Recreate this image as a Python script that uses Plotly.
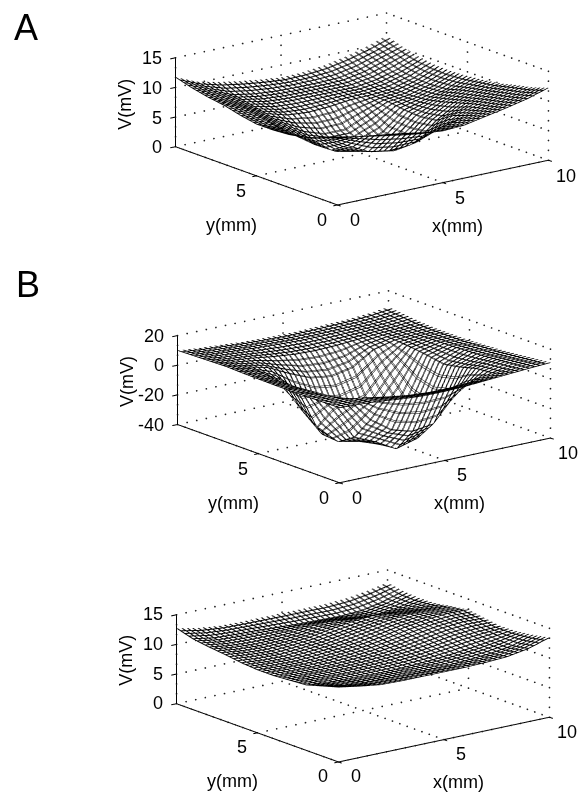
import plotly.graph_objects as go

W, H = 583, 795
GRID_MM = [0, 1, 2, 3, 4, 5, 6, 7, 8, 9, 10]
X_TICKS = [0, 5, 10]
Y_TICKS = [0, 5]
Z_TICKS_A = [0, 5, 10, 15]
Z_TICKS_B = [-40, -20, 0, 20]
Z_TICKS_C = [0, 5, 10, 15]

V_A = [
    [11.5, 10.8, 10.3, 9.8, 9.2, 8.7, 8.9, 9.6, 10.3, 11.1, 12.2],
    [10.4, 9.6, 9.1, 8.5, 7.9, 7.4, 8.0, 8.8, 9.6, 10.4, 11.3],
    [9.4, 8.6, 6.6, 4.8, 4.2, 4.4, 5.6, 7.8, 9.0, 9.8, 10.7],
    [8.9, 7.6, 4.8, 3.8, 3.0, 2.4, 3.0, 6.0, 8.2, 9.2, 10.0],
    [8.7, 7.2, 4.7, 2.8, 2.2, 1.6, 2.6, 5.6, 7.4, 8.6, 9.6],
    [8.7, 7.4, 5.0, 2.8, 1.8, 1.6, 2.8, 5.8, 6.8, 7.8, 9.3],
    [9.2, 8.0, 6.2, 4.2, 3.0, 3.0, 4.6, 6.2, 6.6, 7.6, 9.1],
    [9.9, 8.6, 7.0, 6.0, 5.7, 5.9, 6.3, 6.4, 6.7, 7.7, 9.2],
    [10.3, 9.0, 7.6, 6.9, 6.7, 6.7, 6.7, 6.7, 7.2, 8.2, 9.6],
    [10.9, 9.6, 8.2, 7.6, 7.3, 7.2, 7.2, 7.3, 8.0, 9.2, 10.3],
    [11.7, 10.2, 9.4, 8.8, 8.3, 7.9, 8.0, 8.4, 9.1, 10.0, 11.2],
]
V_B = [
    [10.5, 10, 9, 7.5, 6.5, 6.5, 7, 8, 9, 10, 10.8],
    [10.3, 9, 7.5, 5, 3, 2, 2, 3, 6, 9, 9.8],
    [10.1, 8, 2, -14, -24, -28, -26, -10, 5, 8, 8.6],
    [10, 7, -8, -30, -36, -44, -40, -26, 2, 7, 7.5],
    [10, 6, -24, -37, -40, -45, -42, -30, 0, 6.5, 7],
    [10.2, 6, -16, -36, -40, -42, -40, -26, 2, 6, 6.2],
    [10.4, 7, -3, -22, -32, -34, -30, -12, 3.5, 5.8, 6.2],
    [10.8, 7.5, 4, -3, -9, -11, -8, 1, 4.5, 5.5, 6.2],
    [10.5, 8, 6.5, 4.5, 3, 2.5, 3, 4, 5, 5.7, 6.8],
    [10.2, 8.5, 7.5, 6.5, 5.8, 5.2, 5.2, 5.5, 5.8, 6.5, 8],
    [9.9, 8.5, 7.6, 6.5, 6, 5.6, 5.8, 6.2, 6.6, 7.5, 9.2],
]
V_C = [
    [12.6, 12, 11.5, 11.4, 11.4, 11.4, 11.4, 11.5, 11.7, 12.3, 13.4],
    [11.8, 11.2, 10.9, 10.8, 10.8, 10.8, 10.8, 11, 11.3, 11.8, 12.9],
    [11, 10.7, 10.5, 10.4, 10.4, 10.5, 10.7, 11, 11.4, 11.9, 12.5],
    [10.8, 10.5, 10.4, 10.4, 10.5, 10.7, 11, 11.5, 12, 12.3, 12.4],
    [10.6, 10.4, 10.3, 10.4, 10.6, 10.9, 11.4, 12, 12.6, 12.9, 12.8],
    [10.6, 10.4, 10.3, 10.5, 10.8, 11.2, 11.8, 12.5, 13, 13.3, 13.2],
    [10.8, 10.5, 10.4, 10.7, 11, 11.5, 12.1, 12.7, 13, 12.9, 12.8],
    [11.2, 10.8, 10.6, 10.8, 11.1, 11.7, 12.2, 12.5, 12.2, 12.1, 12.3],
    [11.5, 11, 10.8, 10.8, 11, 11.4, 11.5, 11.2, 11, 11.4, 12.2],
    [11.9, 11.3, 11.1, 11, 10.8, 10.6, 10.5, 10.4, 10.6, 11.3, 12.4],
    [12.7, 12, 11.6, 11.5, 11.5, 11.5, 11.5, 11.5, 11.7, 12.2, 12.9],
]

FONT = dict(family="Liberation Sans, Arial, sans-serif", size=18, color="black")
EYE_R = 6.0
EYE_DIR = (-0.585, -0.762, 0.276)
XY_PAD = 0.5
ZOOM = 2.44
XY_ASPECT = 1.1 * ZOOM
Z_UNIT = 0.348 * ZOOM
DOTS_XY = 22   # dots per grid line along x or y
DOTS_Z = 9     # dots per grid line along z
MESH_STEP = 0.25
MESH_THICKEN = 0.04  # second pass of the mesh, to give the lines their printed weight


def line3d(scene, xs, ys, zs, width=2):
    return go.Scatter3d(x=xs, y=ys, z=zs, mode="lines", scene=scene, showlegend=False,
                        hoverinfo="skip", line=dict(color="black", width=width))


def dotted_grid(scene, z_ticks):
    z0, z1 = z_ticks[0], z_ticks[-1]
    px, py, pz = [], [], []

    def seg(a, b, n):
        for i in range(n + 1):
            f = i / n
            px.append(a[0] + (b[0] - a[0]) * f)
            py.append(a[1] + (b[1] - a[1]) * f)
            pz.append(a[2] + (b[2] - a[2]) * f)

    for t in [0, 5, 10]:
        seg((t, 0, z0), (t, 10, z0), DOTS_XY)
        seg((0, t, z0), (10, t, z0), DOTS_XY)
        seg((t, 10, z0), (t, 10, z1), DOTS_Z)
        seg((10, t, z0), (10, t, z1), DOTS_Z)
    for t in z_ticks:
        seg((0, 10, t), (10, 10, t), DOTS_XY)
        seg((10, 0, t), (10, 10, t), DOTS_XY)
    return go.Scatter3d(x=px, y=py, z=pz, mode="markers", scene=scene, showlegend=False,
                        hoverinfo="skip",
                        marker=dict(color="#222222", size=1, line=dict(width=0)))


def mesh_surface(scene, values, start):
    return go.Surface(
        x=GRID_MM, y=GRID_MM, z=values, scene=scene, showscale=False, hoverinfo="skip",
        colorscale=[[0, "white"], [1, "white"]],
        lighting=dict(ambient=1, diffuse=0, specular=0, roughness=1, fresnel=0),
        contours=dict(
            x=dict(show=True, start=start, end=10, size=MESH_STEP, color="black", width=2),
            y=dict(show=True, start=start, end=10, size=MESH_STEP, color="black", width=2),
        ),
    )


def panel(fig, scene, values, z_ticks, z_range, z_scale, cx, cy, half_h=109, half_w=215):
    fig.add_trace(mesh_surface(scene, values, 0))
    fig.add_trace(mesh_surface(scene, values, MESH_THICKEN))
    z0, z1 = z_ticks[0], z_ticks[-1]
    # solid axis lines
    fig.add_trace(line3d(scene, [0, 10], [0, 0], [z0, z0]))
    fig.add_trace(line3d(scene, [0, 0], [0, 10], [z0, z0]))
    fig.add_trace(line3d(scene, [0, 0], [10, 10], [z0, z1]))
    # tick marks
    for t in X_TICKS:
        fig.add_trace(line3d(scene, [t, t], [0, -0.2], [z0, z0]))
    for t in Y_TICKS + [10]:
        fig.add_trace(line3d(scene, [0, -0.2], [t, t], [z0, z0]))
    for t in z_ticks:
        fig.add_trace(line3d(scene, [0, -0.25], [10, 10], [t, t]))
    fig.add_trace(dotted_grid(scene, z_ticks))

    ann = []
    def add(x, y, z, text, dx, dy, **kw):
        ann.append(dict(x=x, y=y, z=z, text=text, showarrow=False, font=FONT,
                        xshift=dx, yshift=-dy, **kw))
    for t in X_TICKS:
        add(t, 0, z0, str(t), 18, 15)
    for t in Y_TICKS:
        add(0, t, z0, str(t), -15, 15)
    for t in z_ticks:
        add(0, 10, t, str(t), -11, 0, xanchor="right")
    add(5, 0, z0, "x(mm)", 15, 43)
    add(0, 5, z0, "y(mm)", -25, 49)
    add(0, 10, (z0 + z1) / 2, "V(mV)", -50, 2, textangle=-90)

    axis = dict(visible=False, showspikes=False)
    fig.update_layout({scene: dict(
        domain=dict(x=[(cx - half_w) / W, (cx + half_w) / W],
                    y=[1 - (cy + half_h) / H, 1 - (cy - half_h) / H]),
        xaxis=dict(range=[-XY_PAD, 10 + XY_PAD], **axis),
        yaxis=dict(range=[-XY_PAD, 10 + XY_PAD], **axis),
        zaxis=dict(range=z_range, **axis),
        aspectmode="manual",
        aspectratio=dict(x=XY_ASPECT, y=XY_ASPECT, z=z_scale),
        camera=dict(projection=dict(type="orthographic"),
                    eye=dict(x=EYE_DIR[0] * EYE_R, y=EYE_DIR[1] * EYE_R, z=EYE_DIR[2] * EYE_R),
                    up=dict(x=0, y=0, z=1), center=dict(x=0, y=0, z=0)),
        bgcolor="white",
        annotations=ann,
    )})


fig = go.Figure()
panel(fig, "scene", V_A, Z_TICKS_A, [-0.5, 15.5], Z_UNIT * (16 / 15), 361.5, 109.5)
panel(fig, "scene2", V_B, Z_TICKS_B, [-47, 20], Z_UNIT * (67 / 60), 363.5, 392)
panel(fig, "scene3", V_C, Z_TICKS_C, [-0.5, 15.5], Z_UNIT * (16 / 15), 362.5, 665.5)

LETTER_FONT = dict(family="Liberation Sans, Arial, sans-serif", size=36, color="black")
fig.update_layout(
    width=W, height=H, margin=dict(l=0, r=0, t=0, b=0), paper_bgcolor="white",
    hovermode=False, showlegend=False,
    annotations=[
        dict(x=26 / W, y=1 - 28 / H, xref="paper", yref="paper", text="A", showarrow=False,
             xanchor="center", yanchor="middle", font=LETTER_FONT),
        dict(x=28 / W, y=1 - 285 / H, xref="paper", yref="paper", text="B", showarrow=False,
             xanchor="center", yanchor="middle", font=LETTER_FONT),
    ],
)
fig.write_html("out.html", post_script="document.body.style.margin='0';",
               config=dict(displayModeBar=False))
